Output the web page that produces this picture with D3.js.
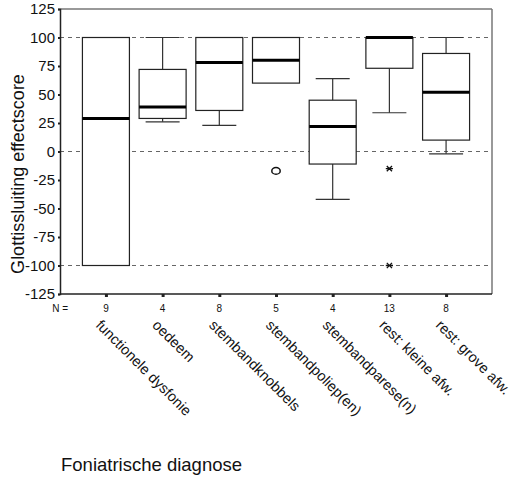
<!DOCTYPE html>
<html>
<head>
<meta charset="utf-8">
<script src="https://cdn.jsdelivr.net/npm/d3@7"></script>
<style>
  html, body { margin: 0; padding: 0; background: #fff; }
  svg { display: block; font-family: "Liberation Sans", Arial, sans-serif; }
</style>
</head>
<body>
<svg id="chart" width="514" height="479"></svg>
<script>
// Boxplot: glottal closure effect score per phoniatric diagnosis
const categories = [
  "functionele dysfonie",
  "oedeem",
  "stembandknobbels",
  "stembandpoliep(en)",
  "stembandparese(n)",
  "rest: kleine afw.",
  "rest: grove afw."
];
const nCounts     = [9, 4, 8, 5, 4, 13, 8];
const whiskerLow  = [-100, 26, 23, 60, -42, 34, -2];
const q1          = [-100, 29, 36, 60, -11, 73, 10];
const median      = [29, 39, 78, 80, 22, 100, 52];
const q3          = [100, 72, 100, 100, 45, 100, 86];
const whiskerHigh = [100, 100, 100, 100, 64, 100, 100];

// outliers (circle) and extremes (asterisk)
const outlierCats   = ["stembandpoliep(en)"];
const outlierVals   = [-17];
const extremeCats   = ["rest: kleine afw.", "rest: kleine afw."];
const extremeVals   = [-15, -100];

const yTicks = [125, 100, 75, 50, 25, 0, -25, -50, -75, -100, -125];
const refLines = [100, 0, -100];

const svg = d3.select("#chart");
const plotL = 60, plotR = 492, plotT = 9, plotB = 294;

const x = d3.scalePoint().domain(categories).range([plotL, plotR]).padding(0.81);
const y = d3.scaleLinear().domain([-125, 125]).range([plotB, plotT]);

const boxW = 47, capW = 34;
const rows = categories.map((c, i) => ({
  cat: c, n: nCounts[i], lo: whiskerLow[i], q1: q1[i], med: median[i], q3: q3[i], hi: whiskerHigh[i]
}));

// frame: top and right in grey
svg.append("line").attr("x1", plotL).attr("x2", plotR).attr("y1", plotT).attr("y2", plotT)
  .attr("stroke", "#777").attr("stroke-width", 1.5);
svg.append("line").attr("x1", plotR).attr("x2", plotR).attr("y1", plotT).attr("y2", plotB)
  .attr("stroke", "#777").attr("stroke-width", 1.5);

// dashed reference lines
svg.append("g").selectAll("line").data(refLines).join("line")
  .attr("x1", plotL).attr("x2", plotR)
  .attr("y1", d => y(d)).attr("y2", d => y(d))
  .attr("stroke", "#666").attr("stroke-width", 1.2).attr("stroke-dasharray", "4,4");

// y axis (plain hyphen for negatives)
const yAxis = d3.axisLeft(y).tickValues(yTicks).tickSize(2).tickPadding(3).tickFormat(d => String(d));
const gy = svg.append("g").attr("transform", `translate(${plotL},0)`).call(yAxis);
gy.select(".domain").attr("stroke", "#222").attr("stroke-width", 1.5);
gy.selectAll(".tick line").attr("stroke", "#222").attr("stroke-width", 2);
gy.selectAll(".tick text").attr("font-size", 15).attr("fill", "#111")
  .attr("font-family", "'Liberation Sans', Arial, sans-serif");

// x axis
const xAxis = d3.axisBottom(x).tickSize(3).tickFormat("");
const gx = svg.append("g").attr("transform", `translate(0,${plotB})`).call(xAxis);
gx.select(".domain").attr("stroke", "#222").attr("stroke-width", 1.5).attr("d", `M${plotL},0H${plotR}`);
gx.selectAll(".tick line").attr("stroke", "#222").attr("stroke-width", 3);

// boxes
const g = svg.append("g");
rows.forEach(r => {
  const cx = x(r.cat);
  // whiskers
  if (r.hi > r.q3) {
    g.append("line").attr("x1", cx).attr("x2", cx).attr("y1", y(r.q3)).attr("y2", y(r.hi))
      .attr("stroke", "#333").attr("stroke-width", 1.2);
    g.append("line").attr("x1", cx - capW / 2).attr("x2", cx + capW / 2).attr("y1", y(r.hi)).attr("y2", y(r.hi))
      .attr("stroke", "#333").attr("stroke-width", 1.2);
  }
  if (r.lo < r.q1) {
    g.append("line").attr("x1", cx).attr("x2", cx).attr("y1", y(r.q1)).attr("y2", y(r.lo))
      .attr("stroke", "#333").attr("stroke-width", 1.2);
    g.append("line").attr("x1", cx - capW / 2).attr("x2", cx + capW / 2).attr("y1", y(r.lo)).attr("y2", y(r.lo))
      .attr("stroke", "#333").attr("stroke-width", 1.2);
  }
  g.append("rect")
    .attr("x", cx - boxW / 2).attr("width", boxW)
    .attr("y", y(r.q3)).attr("height", y(r.q1) - y(r.q3))
    .attr("fill", "#fff").attr("stroke", "#222").attr("stroke-width", 1.2);
  g.append("line").attr("x1", cx - boxW / 2).attr("x2", cx + boxW / 2)
    .attr("y1", y(r.med)).attr("y2", y(r.med))
    .attr("stroke", "#000").attr("stroke-width", 3);
});

// outliers
g.selectAll("ellipse.out").data(outlierVals.map((v, i) => ({ cat: outlierCats[i], v })))
  .join("ellipse").attr("class", "out")
  .attr("cx", d => x(d.cat)).attr("cy", d => y(d.v))
  .attr("rx", 4.2).attr("ry", 3.4)
  .attr("fill", "none").attr("stroke", "#111").attr("stroke-width", 1.5);

// extremes
const star = s => `M${-s},${-s}L${s},${s}M${-s},${s}L${s},${-s}M${-s - 1},0L${s + 1},0`;
g.selectAll("path.ext").data(extremeVals.map((v, i) => ({ cat: extremeCats[i], v })))
  .join("path").attr("class", "ext")
  .attr("transform", d => `translate(${x(d.cat)},${y(d.v)})`)
  .attr("d", star(2.6))
  .attr("fill", "none").attr("stroke", "#111").attr("stroke-width", 1.3);

// N counts row
svg.append("text").attr("x", 68).attr("y", 312).attr("text-anchor", "end")
  .attr("font-size", 10).attr("fill", "#111").text("N =");
svg.append("g").selectAll("text").data(rows).join("text")
  .attr("x", d => x(d.cat)).attr("y", 312).attr("text-anchor", "middle")
  .attr("font-size", 10).attr("fill", "#111").text(d => d.n);

// category labels, rotated
svg.append("g").selectAll("text").data(categories).join("text")
  .attr("transform", d => `translate(${x(d) - 11},${326}) rotate(45)`)
  .attr("text-anchor", "start").attr("font-size", 14.5).attr("fill", "#111")
  .text(d => d);

// axis titles
svg.append("text")
  .attr("transform", "translate(24,174) rotate(-90)")
  .attr("text-anchor", "middle").attr("font-size", 18).attr("fill", "#111")
  .text("Glottissluiting effectscore");
svg.append("text").attr("x", 61).attr("y", 471).attr("font-size", 18.5).attr("fill", "#111")
  .text("Foniatrische diagnose");
</script>
</body>
</html>
